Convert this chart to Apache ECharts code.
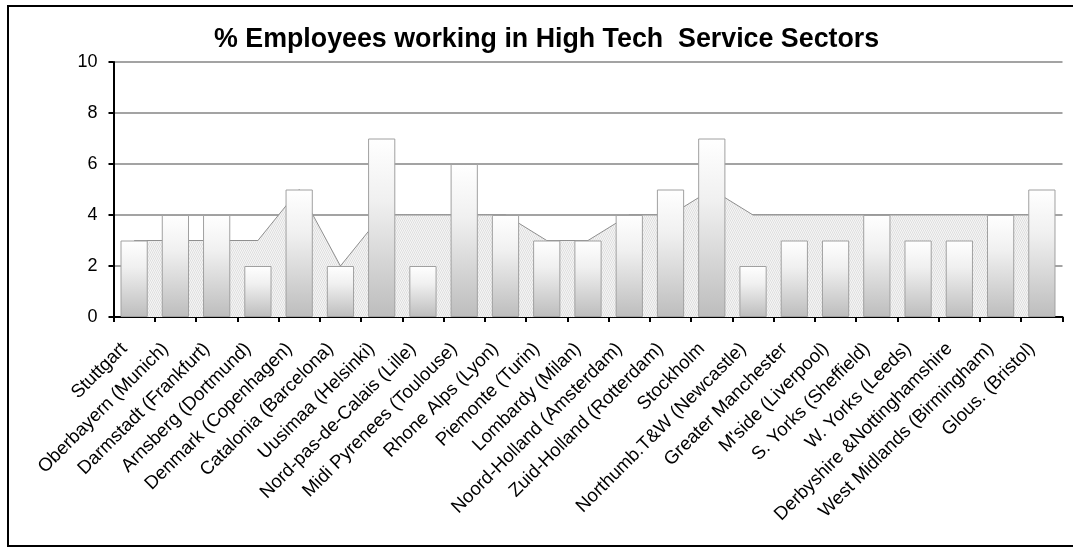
<!DOCTYPE html>
<html><head><meta charset="utf-8">
<script src="https://cdn.jsdelivr.net/npm/echarts@6/dist/echarts.min.js"></script>
<style>html,body{margin:0;padding:0;background:#fff}#c{width:1073px;height:550px}</style>
</head><body><div id="c"></div>
<script>
const categories = ["Stuttgart","Oberbayern (Munich)","Darmstadt (Frankfurt)","Arnsberg (Dortmund)","Denmark (Copenhagen)","Catalonia (Barcelona)","Uusimaa (Helsinki)","Nord-pas-de-Calais (Lille)","Midi Pyrenees (Toulouse)","Rhone Alps (Lyon)","Piemonte (Turin)","Lombardy (Milan)","Noord-Holland (Amsterdam)","Zuid-Holland (Rotterdam)","Stockholm","Northumb.T&W (Newcastle)","Greater Manchester","M'side (Liverpool)","S. Yorks (Sheffield)","W. Yorks (Leeds)","Derbyshire &Nottinghamshire","West Midlands (Birmingham)","Glous. (Bristol)"];
const barValues = [3,4,4,2,5,2,7,2,6,4,3,3,4,5,7,2,3,3,4,3,3,4,5];
const areaValues = [3,3,3,3,5,2,4,4,4,4,3,3,4,4,5,4,4,4,4,4,4,4,4];
const yTicks = [0,2,4,6,8,10];
const titleText = "% Employees working in High Tech  Service Sectors";

// dotted pattern for the area
const pc = document.createElement('canvas');
pc.width = 4; pc.height = 4;
const px = pc.getContext('2d');
px.fillStyle = '#f6f6f6'; px.fillRect(0,0,4,4);
px.fillStyle = '#dedede';
px.fillRect(0,0,1,1); px.fillRect(2,0,1,1); px.fillRect(1,2,1,1); px.fillRect(3,2,1,1);
px.fillStyle = '#ebebeb';
px.fillRect(0,1,4,1); px.fillRect(0,3,4,1);

const chart = echarts.init(document.getElementById('c'), null, {renderer:'canvas'});
const FONT = 'Liberation Sans, Arial, sans-serif';
chart.setOption({
  animation:false,
  backgroundColor:'#fff',
  title:{text:titleText,left:214,top:26,padding:0,
    textStyle:{fontFamily:FONT,fontWeight:'bold',fontSize:26.8,color:'#000'}},
  graphic:[{type:'rect',shape:{x:8,y:6,width:1080,height:540},
    style:{fill:'none',stroke:'#000',lineWidth:2},silent:true,z:100}],
  grid:{left:113.5,right:10.5,top:62,bottom:233,containLabel:false},
  xAxis:{type:'category',data:categories,boundaryGap:true,
    axisLine:{lineStyle:{color:'#000',width:2}},
    axisTick:{show:true,alignWithLabel:false,length:5,lineStyle:{color:'#000',width:2}},
    axisLabel:{interval:0,rotate:45,margin:19,padding:[0,14,0,0],fontFamily:FONT,fontSize:18.6,color:'#000'},
    splitLine:{show:false}},
  yAxis:{type:'value',min:yTicks[0],max:yTicks[yTicks.length-1],interval:2,
    axisLine:{show:true,lineStyle:{color:'#000',width:2}},
    axisTick:{show:true,length:5,lineStyle:{color:'#000',width:2}},
    axisLabel:{margin:16,fontFamily:FONT,fontSize:18,color:'#000'},
    splitLine:{show:true,lineStyle:{color:'#a3a3a3',width:2}}},
  series:[
    {type:'line',data:areaValues,symbol:'none',smooth:false,z:1,
      lineStyle:{color:'#8f8f8f',width:1},
      areaStyle:{color:{image:pc,repeat:'repeat'},opacity:1}},
    {type:'bar',data:barValues,barCategoryGap:'34%',z:2,
      itemStyle:{borderColor:'#a0a0a0',borderWidth:1,
        color:{type:'linear',x:0,y:0,x2:0,y2:1,colorStops:[
          {offset:0,color:'#ffffff'},{offset:0.35,color:'#f0f0f0'},{offset:1,color:'#bdbdbd'}]}}}
  ]
});
</script></body></html>
